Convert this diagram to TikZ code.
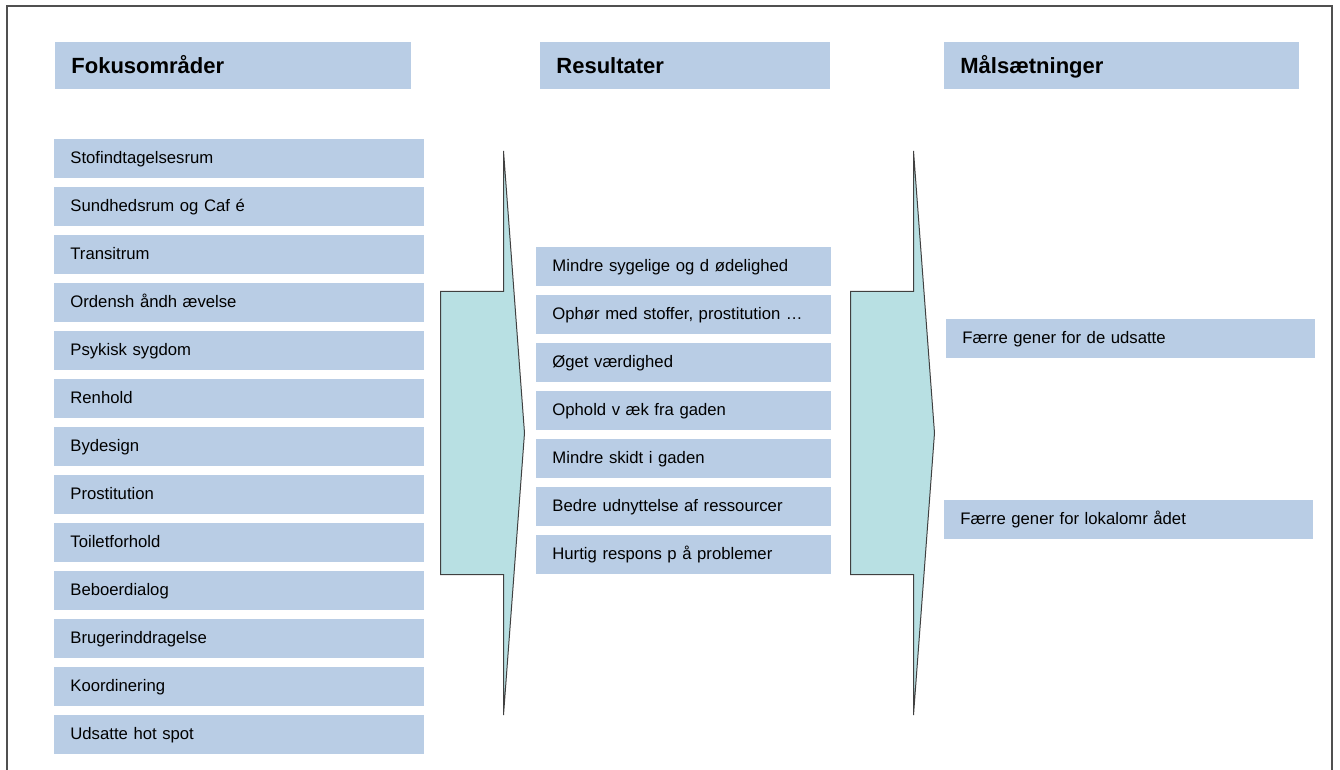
\documentclass[tikz,border=0pt]{standalone}
\usepackage{fontspec}
\setmainfont{Liberation Sans}
\usepackage{tikz}
\usetikzlibrary{calc}
\definecolor{boxblue}{RGB}{185,205,229}
\definecolor{arrowcyan}{RGB}{184,224,227}
\definecolor{framegray}{RGB}{80,80,80}
\newcommand{\rowstep}{48}
\newcommand{\arrowshift}{410}
\def\fokuslist{
  Stofindtagelsesrum,
  Sundhedsrum og Caf é,
  Transitrum,
  Ordensh åndh ævelse,
  Psykisk sygdom,
  Renhold,
  Bydesign,
  Prostitution,
  Toiletforhold,
  Beboerdialog,
  Brugerinddragelse,
  Koordinering,
  Udsatte hot spot
}
\def\resultatlist{
  Mindre sygelige og d ødelighed,
  {Ophør med stoffer, prostitution …},
  Øget værdighed,
  Ophold v æk fra gaden,
  Mindre skidt i gaden,
  Bedre  udnyttelse af ressourcer,
  Hurtig respons p å problemer
}
\tikzset{
  cell/.style      = {fill=boxblue, anchor=north west, inner xsep=8pt, inner ysep=0pt, align=left,
                      text height=0.72em, text depth=0.2em},
  headbox/.style   = {cell, minimum height=23.5pt, text height=1em, text depth=0.2em,
                      font=\bfseries\fontsize{11}{13}\selectfont},
  itembox/.style   = {cell, minimum height=19.3pt, font=\fontsize{8.35}{9.5}\selectfont},
  fokusbox/.style  = {itembox, text width=169pt},
  resbox/.style    = {itembox, text width=131.5pt},
  maalbox/.style   = {itembox, text width=168.5pt},
  blockarrow/.style= {draw=black!75, fill=arrowcyan, line width=0.5pt, line join=miter},
  frame/.style     = {draw=framegray, line width=1pt}
}
\begin{document}
\begin{tikzpicture}[x=0.5pt, y=-0.5pt]
  \useasboundingbox (0,0) rectangle (1340,770);
  % outer frame, open at the bottom
  \draw[frame] (6.5,770) -- (6.5,6.5) -- (1331.5,6.5) -- (1331.5,770);
  % column headers
  \node[headbox, text width=162pt]   (fokushead) at (55,42)  {Fokusområder};
  \node[headbox, text width=129pt]   (reshead)   at (540,42) {Resultater};
  \node[headbox, text width=161.5pt] (maalhead)  at (944,42) {Målsætninger};
  % block arrows between the columns
  \foreach \dx in {0,\arrowshift} {
    \draw[blockarrow] (503.5+\dx,151) -- (524.5+\dx,433) -- (503.5+\dx,715)
      -- (503.5+\dx,574.5) -- (440.5+\dx,574.5) -- (440.5+\dx,291.5)
      -- (503.5+\dx,291.5) -- cycle;
  }
  % focus areas
  \foreach \txt [count=\i from 0] in \fokuslist {
    \node[fokusbox] (fokus\i) at (54,139+\rowstep*\i) {\txt};
  }
  % results
  \foreach \txt [count=\i from 0] in \resultatlist {
    \node[resbox] (res\i) at (536,247+\rowstep*\i) {\txt};
  }
  % goals
  \node[maalbox] (maal0) at (946,319) {Færre gener for de udsatte};
  \node[maalbox] (maal1) at (944,500) {Færre gener for lokalomr ådet};
\end{tikzpicture}
\end{document}
